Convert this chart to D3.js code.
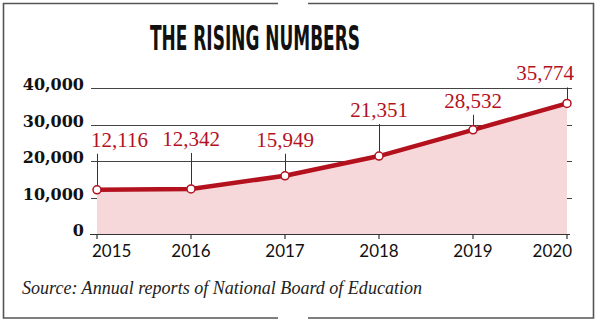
<!DOCTYPE html>
<html>
<head>
<meta charset="utf-8">
<script src="https://cdn.jsdelivr.net/npm/d3@7"></script>
<style>
  html, body { margin: 0; padding: 0; background: #fff; }
  svg { display: block; }
</style>
</head>
<body>
<svg id="chart" width="600" height="325"></svg>
<script>
// Enrolment figures by year
const years = ["2015", "2016", "2017", "2018", "2019", "2020"];
const values = [12116, 12342, 15949, 21351, 28532, 35774];
const yTicks = [0, 10000, 20000, 30000, 40000];
const titleText = "THE RISING NUMBERS";
const sourceText = "Source: Annual reports of National Board of Education";

// Layout: how far above each marker its value label sits, and label anchoring
const labelLift = [43, 43, 29, 39, 22, 23];
const labelAnchor = ["start", "middle", "middle", "middle", "middle", "end"];
const labelShift = [-6, 0, 0, 0, 0, 7];

const RED = "#b3111e";
const FILL = "#f7d8da";
const fmt = d3.format(",");

const svg = d3.select("#chart");

// Frame with small openings at the top and bottom centre
const frame = svg.append("g").attr("fill", "none").attr("stroke", "#555").attr("stroke-width", 1.6);
frame.append("path").attr("d", "M278,3.5 H3.5 V318 H278");
frame.append("path").attr("d", "M308,3.5 H593.5 V318 H308");

// Title
svg.append("text")
  .attr("x", 150).attr("y", 50)
  .attr("textLength", 210).attr("lengthAdjust", "spacingAndGlyphs")
  .style("font-family", "'Liberation Sans Narrow', 'DejaVu Sans Condensed', sans-serif")
  .style("font-weight", "bold")
  .style("font-size", "34px")
  .attr("fill", "#111")
  .text(titleText);

const x = d3.scalePoint().domain(years).range([97, 567]);
const y = d3.scaleLinear().domain([0, 40000]).range([234, 88]);

// Horizontal gridlines
svg.append("g").selectAll("line").data(yTicks.filter(d => d > 0)).join("line")
  .attr("x1", 91).attr("x2", 572)
  .attr("y1", d => Math.round(y(d)) + 0.5).attr("y2", d => Math.round(y(d)) + 0.5)
  .attr("stroke", "#444").attr("stroke-width", 1);

// Y axis labels
svg.append("g").selectAll("text").data(yTicks).join("text")
  .attr("x", 84).attr("y", d => y(d) + 2)
  .attr("text-anchor", "end")
  .style("font-family", "'DejaVu Serif', serif")
  .style("font-weight", "bold")
  .style("font-size", "16px")
  .attr("fill", "#111")
  .text(d => fmt(d));

// Shaded area under the line
const area = d3.area().x((d, i) => x(years[i])).y0(y(0)).y1(d => y(d));
svg.append("path").datum(values).attr("d", area).attr("fill", FILL);

// Baseline axis and year ticks
svg.append("line").attr("x1", 90).attr("x2", 570)
  .attr("y1", y(0) + 0.5).attr("y2", y(0) + 0.5)
  .attr("stroke", "#333").attr("stroke-width", 1.2);
svg.append("g").selectAll("line").data(years).join("line")
  .attr("x1", d => x(d)).attr("x2", d => x(d))
  .attr("y1", y(0)).attr("y2", y(0) + 5)
  .attr("stroke", "#333").attr("stroke-width", 1.2);

// Year labels
svg.append("g").selectAll("text").data(years).join("text")
  .attr("x", (d, i) => x(d) + (i === 0 ? -5 : i === years.length - 1 ? 5 : 0))
  .attr("y", 257)
  .attr("text-anchor", (d, i) => i === 0 ? "start" : i === years.length - 1 ? "end" : "middle")
  .style("font-family", "Lato, sans-serif")
  .style("font-size", "17px")
  .attr("fill", "#111")
  .text(d => d);

// Leader lines from value labels down to the markers
svg.append("g").selectAll("line").data(values).join("line")
  .attr("x1", (d, i) => x(years[i]) + 0.5).attr("x2", (d, i) => x(years[i]) + 0.5)
  .attr("y1", (d, i) => y(d) - labelLift[i] + 7)
  .attr("y2", d => y(d) - 4)
  .attr("stroke", "#333").attr("stroke-width", 1);

// Trend line
const line = d3.line().x((d, i) => x(years[i])).y(d => y(d));
svg.append("path").datum(values).attr("d", line)
  .attr("fill", "none").attr("stroke", RED).attr("stroke-width", 4.5)
  .attr("stroke-linejoin", "round");

// Markers
svg.append("g").selectAll("circle").data(values).join("circle")
  .attr("cx", (d, i) => x(years[i])).attr("cy", d => y(d)).attr("r", 4)
  .attr("fill", "#fff").attr("stroke", RED).attr("stroke-width", 1.5);

// Value labels
svg.append("g").selectAll("text").data(values).join("text")
  .attr("x", (d, i) => x(years[i]) + labelShift[i])
  .attr("y", (d, i) => y(d) - labelLift[i])
  .attr("text-anchor", (d, i) => labelAnchor[i])
  .style("font-family", "'Liberation Serif', serif")
  .style("font-size", "21px")
  .attr("fill", RED)
  .text(d => fmt(d));

// Source note
svg.append("text")
  .attr("x", 22).attr("y", 294)
  .attr("textLength", 400).attr("lengthAdjust", "spacingAndGlyphs")
  .style("font-family", "'Liberation Serif', serif")
  .style("font-style", "italic")
  .style("font-size", "18px")
  .attr("fill", "#222")
  .text(sourceText);
</script>
</body>
</html>
